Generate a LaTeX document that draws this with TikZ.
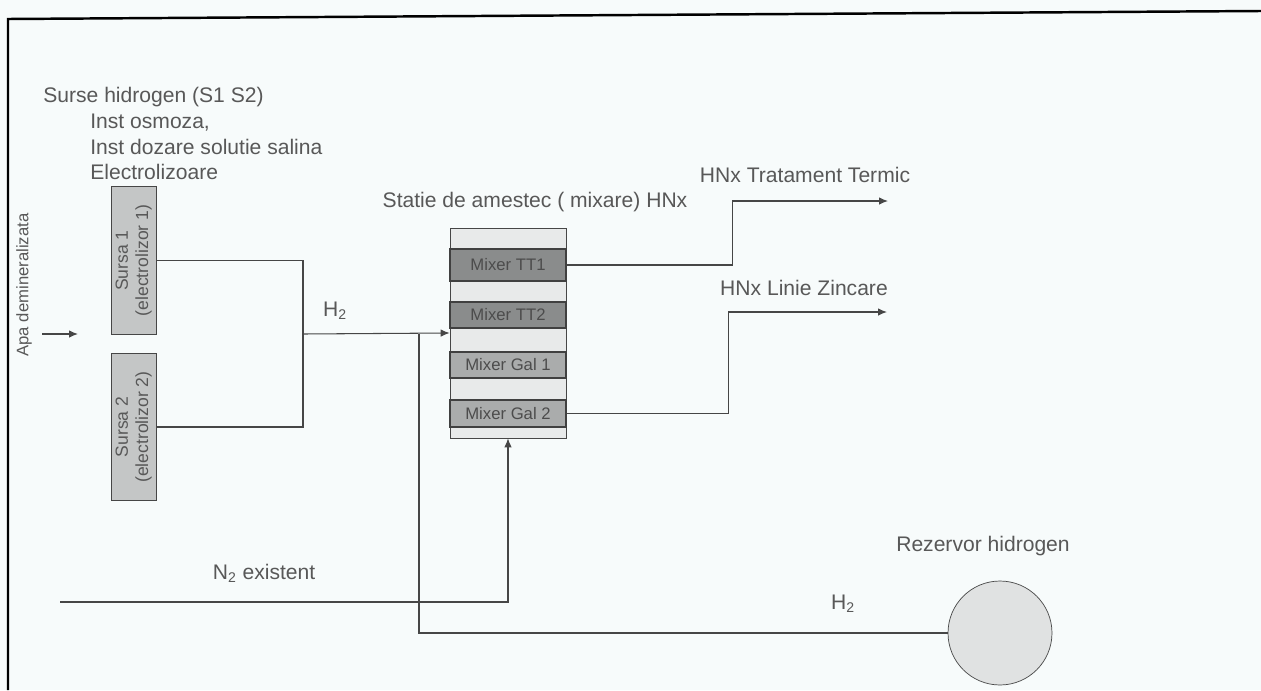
\documentclass[tikz,border=0pt]{standalone}
\usepackage{fontspec}
\setmainfont{Liberation Sans}
\usetikzlibrary{arrows.meta,positioning,calc}
\definecolor{linegray}{RGB}{70,70,70}
\definecolor{txtgray}{RGB}{88,88,88}
\definecolor{paper}{RGB}{247,251,251}
\definecolor{srcfill}{RGB}{196,198,198}
\definecolor{bandlight}{RGB}{232,234,234}
\definecolor{banddark}{RGB}{138,140,140}
\definecolor{bandmid}{RGB}{170,172,172}
\definecolor{tankfill}{RGB}{224,226,226}

\begin{document}
\begin{tikzpicture}[
  x=0.02cm, y=-0.02cm,
  lbl/.style={inner sep=0pt, text=txtgray, font=\fontsize{12}{14.4}\selectfont},
  srcbox/.style={draw=linegray, fill=srcfill, minimum width=0.9cm, minimum height=2.95cm, inner sep=0pt, text=txtgray, font=\fontsize{10}{11.5}\selectfont},
  colbox/.style={draw=linegray, fill=bandlight, minimum width=2.32cm, minimum height=4.2cm, inner sep=0pt},
  mixband/.style={draw=black!75, line width=0.9pt, fill=banddark, minimum width=2.32cm, inner sep=0pt, text=black!70, font=\fontsize{9.5}{11}\selectfont},
  galband/.style={mixband, fill=bandmid},
  tank/.style={circle, draw=linegray, fill=tankfill, minimum size=2.08cm, inner sep=0pt},
  pipe/.style={draw=linegray, line width=0.6pt},
  arrow/.style={pipe, -{Latex[length=1.8mm,width=1.5mm]}}
]
\fill[paper] (0,0) rectangle (1261,690);
\useasboundingbox (0,0) rectangle (1261,690);
\draw[line width=1.4pt] (8,690) -- (8,19) -- (1261,11);

% surse
\node[lbl, anchor=west] (surse) at (43,97) {Surse hidrogen (S1 S2)};
\node[lbl, anchor=west, align=left] (inst) at (90,147) {Inst osmoza,\\Inst dozare solutie salina\\Electrolizoare};
\node[lbl, rotate=90, font=\fontsize{9.5}{11}\selectfont] (apa) at (24,285) {Apa demineralizata};
\node[srcbox] (s1) at (134,260.5) {\rotatebox{90}{\begin{tabular}{@{}c@{}}Sursa 1\\(electrolizor 1)\end{tabular}}};
\node[srcbox] (s2) at (134,427) {\rotatebox{90}{\begin{tabular}{@{}c@{}}Sursa 2\\(electrolizor 2)\end{tabular}}};

% statie de mixare
\node[colbox] (mixer) at (508,333) {};
\node[mixband, minimum height=0.64cm] (tt1) at (508,265) {Mixer TT1};
\node[mixband, minimum height=0.52cm] (tt2) at (508,315) {Mixer TT2};
\node[galband, minimum height=0.52cm] (gal1) at (508,365) {Mixer Gal 1};
\node[galband, minimum height=0.54cm] (gal2) at (508,413.5) {Mixer Gal 2};
\node[lbl] (statie) at (535,202) {Statie de amestec ( mixare) HNx};

\node[lbl] (hnxtt) at (805,175) {HNx Tratament Termic};
\node[lbl] (hnxzn) at (804,288) {HNx Linie Zincare};
\node[lbl] (h2a) at (335,311) {H\textsubscript{2}};
\node[lbl] (n2) at (264,573) {N\textsubscript{2} existent};
\node[lbl] (h2b) at (843,604) {H\textsubscript{2}};
\node[tank] (rez) at (1000,633) {};
\node[lbl] (rezlbl) at (983,546) {Rezervor hidrogen};

\coordinate (apain) at (42,334);
\coordinate (apaout) at (78,334);
\coordinate (jn) at (303,334);
\coordinate (tap) at (419,334);
\coordinate (n2in) at (60,602);
\coordinate (ttout) at (888,201);
\coordinate (znout) at (887,312);

% conducte
\draw[arrow] (apain) -- (apaout);
\draw[pipe] (s1.east) -| (jn) |- (s2.east);
\draw[arrow] (jn) -- (mixer.west);
\draw[pipe] (tap) |- (rez.west);
\draw[arrow] (n2in) -| (mixer.south);
\draw[arrow] (tt1.east) -- ++(166,0) |- (ttout);
\draw[arrow] (gal2.east) -- ++(162,0) |- (znout);
\end{tikzpicture}
\end{document}
